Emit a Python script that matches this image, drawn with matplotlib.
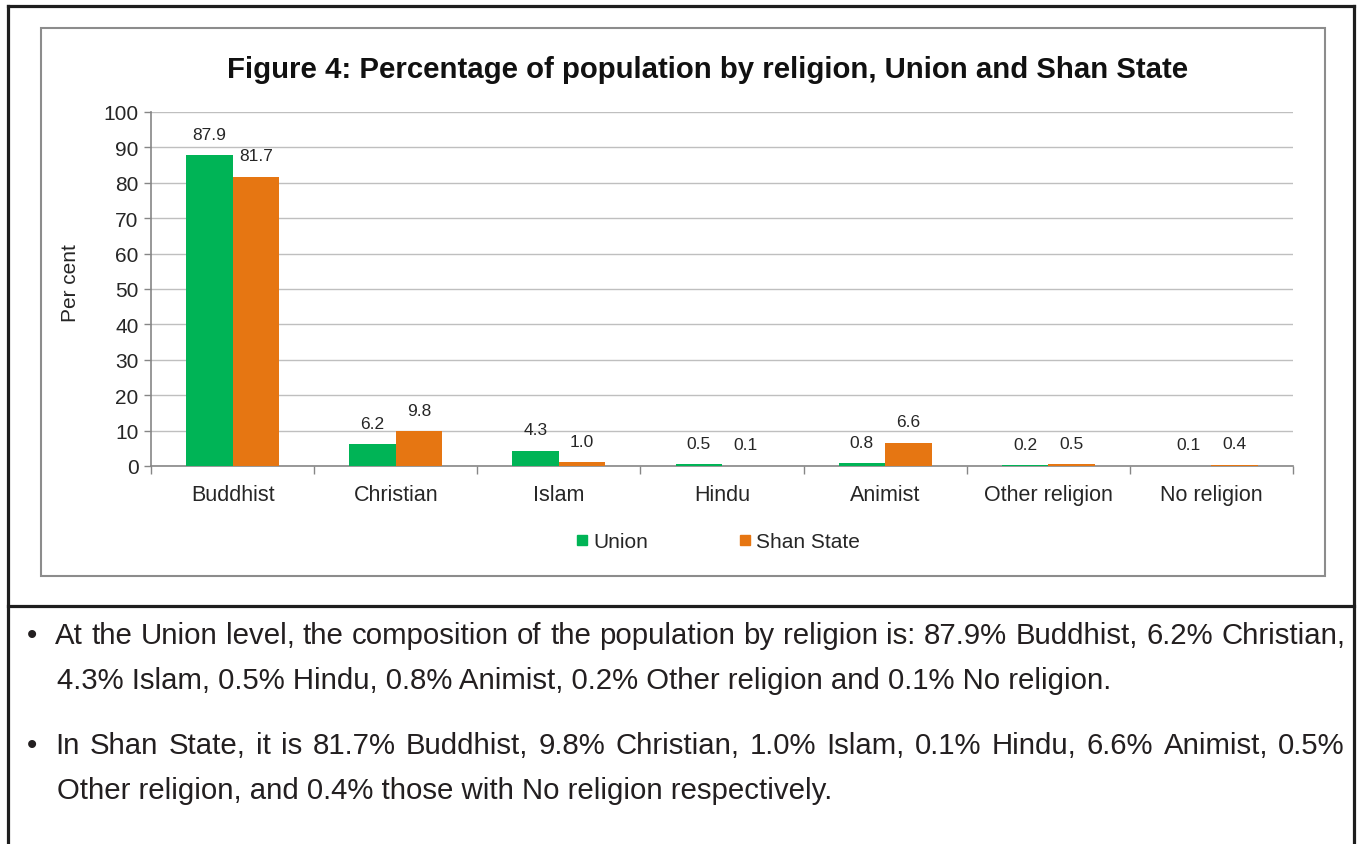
import matplotlib
matplotlib.use("Agg")
import numpy as np
import matplotlib.pyplot as plt
from matplotlib.lines import Line2D
from matplotlib.patches import Rectangle

plt.rcParams['font.family'] = ['Liberation Sans', 'DejaVu Sans']

categories = ['Buddhist', 'Christian', 'Islam', 'Hindu', 'Animist', 'Other religion', 'No religion']
union = [87.9, 6.2, 4.3, 0.5, 0.8, 0.2, 0.1]
shan = [81.7, 9.8, 1.0, 0.1, 6.6, 0.5, 0.4]
series_names = ['Union', 'Shan State']
yticks = list(range(0, 101, 10))

title = 'Figure 4: Percentage of population by religion, Union and Shan State'
bullets = [
    ['At the Union level, the composition of the population by religion is: 87.9% Buddhist, 6.2% Christian,',
     '4.3% Islam, 0.5% Hindu, 0.8% Animist, 0.2% Other religion and 0.1% No religion.'],
    ['In Shan State, it is 81.7% Buddhist, 9.8% Christian, 1.0% Islam, 0.1% Hindu, 6.6% Animist, 0.5%',
     'Other religion, and 0.4% those with No religion respectively.'],
]

GREEN = '#00B456'
ORANGE = '#E67612'
TXT = '#262626'
W, H = 1362, 845

fig = plt.figure(figsize=(W / 100, H / 100), dpi=100)
fig.patch.set_facecolor('white')


def fx(px):
    return px / W


def fy(py):
    return 1 - py / H


ax = fig.add_axes([fx(151), fy(467), fx(1293) - fx(151), fy(113) - fy(467)])

x = np.arange(len(categories))
bw = 0.285
b1 = ax.bar(x - bw / 2, union, bw, color=GREEN, zorder=3)
b2 = ax.bar(x + bw / 2, shan, bw, color=ORANGE, zorder=3)

for bars, vals in ((b1, union), (b2, shan)):
    for rect, v in zip(bars, vals):
        ax.annotate(f'{v:.1f}', (rect.get_x() + rect.get_width() / 2, v),
                    xytext=(0, 15), textcoords='offset points',
                    ha='center', va='center', fontsize=12.5, color=TXT)

ax.set_xlim(-0.5, len(categories) - 0.5)
ax.set_ylim(0, 100)
ax.set_yticks(yticks)
ax.tick_params(axis='y', labelsize=15, colors=TXT, length=5, width=1, pad=4)
ax.tick_params(axis='y', color='#868686')
ax.set_xticks(np.arange(-0.5, len(categories), 1))
ax.set_xticklabels([])
ax.set_xticks(x, minor=True)
ax.set_xticklabels(categories, minor=True, fontsize=15.5, color=TXT)
ax.tick_params(axis='x', which='major', length=6, width=1, color='#868686')
ax.tick_params(axis='x', which='minor', length=0, pad=13)

ax.grid(axis='y', color='#BFBFBF', linewidth=1, zorder=0)
for s in ('top', 'right'):
    ax.spines[s].set_visible(False)
for s in ('left', 'bottom'):
    ax.spines[s].set_color('#868686')
    ax.spines[s].set_linewidth(1.2)

fig.text(fx(70), fy(283), 'Per cent', rotation=90, ha='center', va='center',
         fontsize=15, color=TXT)
fig.text(fx(708), fy(70), title, ha='center', va='center', fontsize=21.2,
         fontweight='bold', color='#111111')

handles = [Line2D([], [], marker='s', linestyle='none', color=GREEN, markersize=7),
           Line2D([], [], marker='s', linestyle='none', color=ORANGE, markersize=7)]
leg = fig.legend(handles, series_names, loc='center', bbox_to_anchor=(fx(718), fy(543)),
                 ncol=2, frameon=False, fontsize=15, handlelength=0.6,
                 handletextpad=0.25, columnspacing=4.3)
for t in leg.get_texts():
    t.set_color(TXT)

# chart frame and outer page box
fig.add_artist(Rectangle((fx(41), fy(577)), fx(1325) - fx(41), fy(29) - fy(577),
                         transform=fig.transFigure, fill=False,
                         edgecolor='#8C8C8C', linewidth=1.5))
box = dict(color='#1E1E1E', linewidth=2.3, transform=fig.transFigure)
fig.add_artist(Line2D([fx(8), fx(8)], [fy(845), fy(7)], **box))
fig.add_artist(Line2D([fx(1354), fx(1354)], [fy(845), fy(7)], **box))
fig.add_artist(Line2D([fx(8), fx(1354)], [fy(7), fy(7)], **box))
fig.add_artist(Line2D([fx(8), fx(1354)], [fy(607), fy(607)], **box))

renderer = fig.canvas.get_renderer()


def justify(line, x0, x1, y, **kw):
    # spread words evenly so the line fills x0..x1
    words = line.split(' ')
    widths = []
    for w in words:
        t = fig.text(0, 0, w, **kw)
        widths.append(t.get_window_extent(renderer).width)
        t.remove()
    gap = (x1 - x0 - sum(widths)) / (len(words) - 1)
    pos = x0
    for w, wd in zip(words, widths):
        fig.text(fx(pos), fy(y), w, ha='left', va='center', **kw)
        pos += wd + gap


body = dict(fontsize=21.2, color='#231F20')
line_y = [(636, 681), (746, 791)]
for (first, second), (y1, y2) in zip(bullets, line_y):
    fig.text(fx(27), fy(y1), '\u2022', ha='left', va='center', **body)
    justify(first, 55, 1345, y1, **body)
    fig.text(fx(57), fy(y2), second, ha='left', va='center', **body)

fig.savefig('out.png', dpi=100, facecolor='white')
